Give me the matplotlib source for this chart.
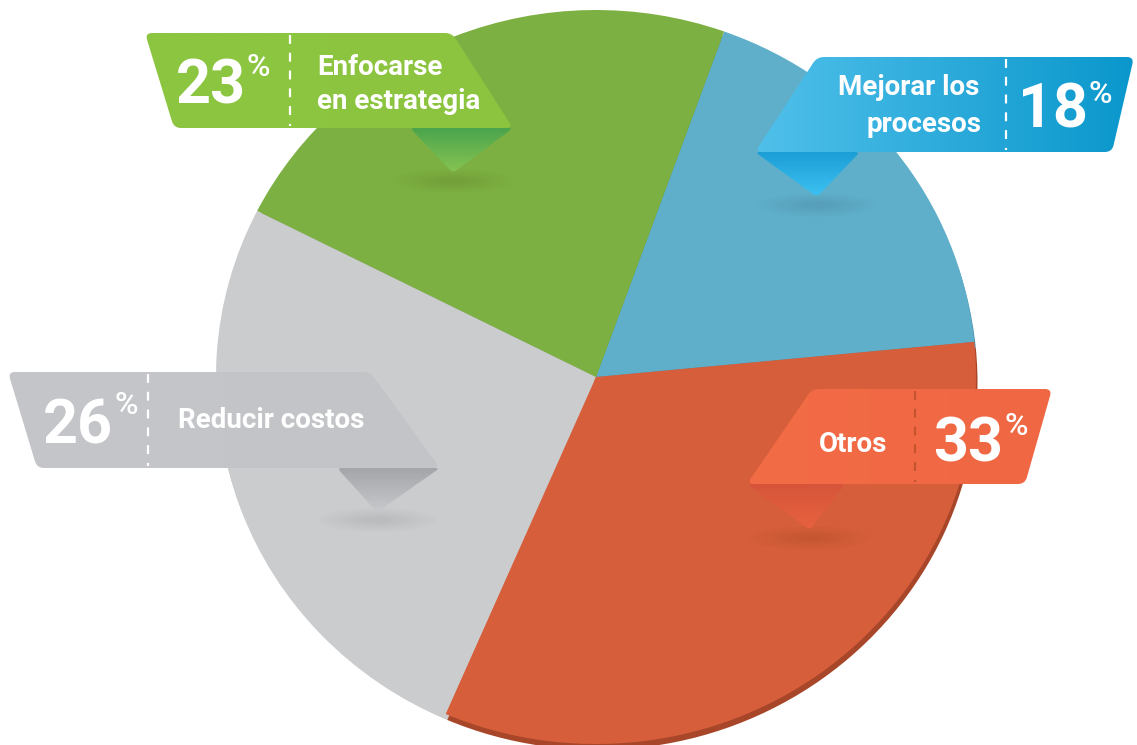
import numpy as np
import matplotlib
matplotlib.use('Agg')
import matplotlib.pyplot as plt
from matplotlib.path import Path
from matplotlib.patches import PathPatch, Ellipse
from matplotlib.colors import LinearSegmentedColormap

# data (counterclockwise from the right)
labels = ['Mejorar los\nprocesos', 'Enfocarse\nen estrategia', 'Reducir costos', 'Otros']
values = [18, 23, 26, 33]
pie_colors = ['#5fafca', '#7cb042', '#cbccce', '#d65e3a']
rim_colors = ['#4d93ab', '#659237', '#cbccce', '#a8462a']

W, H = 1137, 745
FONT = ['Roboto', 'DejaVu Sans']

fig = plt.figure(figsize=(W / 100, H / 100), dpi=100)
fig.patch.set_facecolor('white')

# pie axes, slightly elliptical like the reference
cx, cy, rx, ry = 596, 377, 380, 367
m = 1.1
pax = fig.add_axes([(cx - m * rx) / W, (H - cy - m * ry) / H, 2 * m * rx / W, 2 * m * ry / H])
pax.pie(values, colors=rim_colors, startangle=5.5, center=(0.004, -0.016),
        wedgeprops=dict(linewidth=0))
pax.pie(values, colors=pie_colors, startangle=5.5,
        wedgeprops=dict(linewidth=0.6, edgecolor='none'))
pax.set_aspect('auto')
pax.set_xlim(-m, m)
pax.set_ylim(-m, m)
pax.axis('off')

# overlay axes in pixel coordinates
ax = fig.add_axes([0, 0, 1, 1])
ax.patch.set_alpha(0)
ax.axis('off')


def rounded(pts, r):
    pts = np.asarray(pts, float)
    n = len(pts)
    verts, codes = [], []
    for i in range(n):
        p0, p1, p2 = pts[i - 1], pts[i], pts[(i + 1) % n]
        d0 = (p0 - p1) / np.linalg.norm(p0 - p1)
        d2 = (p2 - p1) / np.linalg.norm(p2 - p1)
        a, b = p1 + d0 * r, p1 + d2 * r
        verts += [a, p1, b]
        codes += [Path.MOVETO if i == 0 else Path.LINETO, Path.CURVE3, Path.CURVE3]
    verts.append(verts[0])
    codes.append(Path.CLOSEPOLY)
    return Path(verts, codes)


def fill_grad(pts, c0, c1, vertical=False, r=6, z=3):
    path = rounded(pts, r)
    patch = PathPatch(path, facecolor='none', edgecolor='none', zorder=z)
    ax.add_patch(patch)
    pts = np.asarray(pts)
    x0, x1 = pts[:, 0].min(), pts[:, 0].max()
    y0, y1 = pts[:, 1].min(), pts[:, 1].max()
    cmap = LinearSegmentedColormap.from_list('g', [c0, c1])
    g = np.linspace(0, 1, 256)
    g = g.reshape(-1, 1) if vertical else g.reshape(1, -1)
    im = ax.imshow(g, cmap=cmap, extent=(x0, x1, y1, y0), aspect='auto',
                   interpolation='bilinear', zorder=z)
    im.set_clip_path(patch)


def shadow(x, y, w, h):
    for k in range(8):
        f = 1 - k * 0.11
        ax.add_patch(Ellipse((x, y), w * f, h * f, facecolor='black',
                             alpha=0.009, edgecolor='none', zorder=2))


# banners: body, fold, divider
banners = [
    dict(body=[(817, 57), (1134, 57), (1112, 152), (755, 152)],
         fold=[(755, 152), (860, 152), (817, 197)],
         c=('#50c0ea', '#0a97cc'), f=('#1c9ed6', '#3ec2f2'), div=1006, dc='white'),
    dict(body=[(145, 33), (452, 33), (513, 128), (174, 128)],
         fold=[(410, 128), (513, 128), (453, 173)],
         c=('#8cc640', '#8cc43f'), f=('#4aa54d', '#88c452'), div=290, dc='white'),
    dict(body=[(8, 372), (370, 372), (440, 468), (37, 468)],
         fold=[(337, 468), (440, 468), (377, 512)],
         c=('#c5c6c9', '#c3c4c7'), f=('#a4a5a8', '#c8c9cc'), div=148, dc='white'),
    dict(body=[(812, 389), (1052, 389), (1025, 484), (747, 484)],
         fold=[(747, 484), (845, 484), (810, 530)],
         c=('#f26c46', '#ef6743'), f=('#d6553a', '#e8623f'), div=915, dc='#c4532f'),
]

for b in banners:
    tip = b['fold'][2]
    shadow(tip[0], tip[1] + 8, 120, 24)
    fill_grad(b['fold'], b['f'][0], b['f'][1], vertical=True, r=5, z=3)
    fill_grad(b['body'], b['c'][0], b['c'][1], r=7, z=4)
    y0, y1 = b['body'][0][1], b['body'][2][1]
    ax.plot([b['div'], b['div']], [y0 + 2, y1 - 2], color=b['dc'], lw=1.6,
            dashes=(4, 4), zorder=5)

tk = dict(color='white', fontfamily=FONT, fontweight='bold', fontsize=20,
          va='baseline', zorder=6)
num = dict(color='white', fontfamily=FONT, fontweight='bold', fontsize=44,
           va='baseline', zorder=6)
pc = dict(color='white', fontfamily=FONT, fontweight='medium', fontsize=23,
          va='baseline', zorder=6)

# Mejorar los procesos
ax.text(979, 95, labels[0].split('\n')[0], ha='right', **tk)
ax.text(981, 132, labels[0].split('\n')[1], ha='right', **tk)
ax.text(1018, 128, str(values[0]), ha='left', **num)
ax.text(1088, 103, '%', ha='left', **pc)

# Enfocarse en estrategia
ax.text(176, 103, str(values[1]), ha='left', **num)
ax.text(247, 76, '%', ha='left', **pc)
ax.text(317, 75, labels[1].split('\n')[0], ha='left', **tk)
ax.text(317, 109, labels[1].split('\n')[1], ha='left', **tk)

# Reducir costos
ax.text(43, 443, str(values[2]), ha='left', **num)
ax.text(114, 414, '%', ha='left', **pc)
ax.text(178, 428, labels[2], ha='left', **tk)

# Otros
ax.text(853, 452, labels[3], ha='center', **tk)
ax.text(933, 462, str(values[3]), ha='left', **num)
ax.text(1004, 435, '%', ha='left', **pc)

ax.set_xlim(0, W)
ax.set_ylim(H, 0)

fig.savefig('out.png', dpi=100, facecolor='white')
